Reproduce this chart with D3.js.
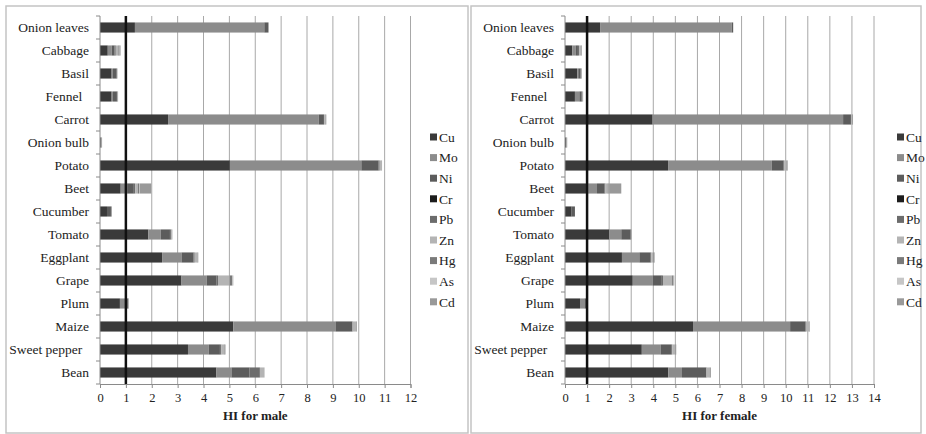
<!DOCTYPE html>
<html>
<head>
<meta charset="utf-8">
<script src="https://cdn.jsdelivr.net/npm/d3@7"></script>
<style>
  body { margin: 0; background: #fff; }
  svg text { font-family: "Liberation Serif", "Times New Roman", serif; fill: #222; }
</style>
</head>
<body>
<svg id="chart" width="926" height="434"></svg>
<script>
const crops = ['Onion leaves', 'Cabbage', 'Basil', 'Fennel ', 'Carrot', 'Onion bulb', 'Potato', 'Beet',
  'Cucumber', 'Tomato', 'Eggplant', 'Grape', 'Plum', 'Maize', 'Sweet pepper ', 'Bean'];
const metals = ['Cu', 'Mo', 'Ni', 'Cr', 'Pb', 'Zn', 'Hg', 'As', 'Cd'];

// HI for male, one array per metal, in crop order
const maleCu = [1.35, 0.30, 0.45, 0.45, 2.63, 0.03, 5.02, 0.80, 0.27, 1.87, 2.40, 3.15, 0.77, 5.15, 3.40, 4.50];
const maleMo = [5.00, 0.15, 0.05, 0.05, 5.82, 0.01, 5.08, 0.25, 0.00, 0.48, 0.75, 0.97, 0.20, 3.95, 0.80, 0.58];
const maleNi = [0.15, 0.10, 0.12, 0.15, 0.20, 0.02, 0.65, 0.25, 0.15, 0.35, 0.45, 0.38, 0.10, 0.65, 0.43, 0.69];
const maleCr = [0.01, 0.01, 0.01, 0.01, 0.01, 0.00, 0.01, 0.01, 0.01, 0.01, 0.01, 0.01, 0.01, 0.01, 0.01, 0.01];
const malePb = [0.00, 0.05, 0.03, 0.02, 0.00, 0.00, 0.05, 0.05, 0.02, 0.05, 0.05, 0.05, 0.02, 0.00, 0.05, 0.40];
const maleZn = [0.00, 0.10, 0.02, 0.02, 0.05, 0.01, 0.05, 0.10, 0.00, 0.04, 0.10, 0.45, 0.02, 0.15, 0.10, 0.18];
const maleHg = [0.00, 0.05, 0.00, 0.00, 0.02, 0.00, 0.02, 0.05, 0.00, 0.00, 0.02, 0.10, 0.00, 0.02, 0.03, 0.00];
const maleAs = [0.00, 0.02, 0.00, 0.00, 0.01, 0.00, 0.01, 0.02, 0.00, 0.00, 0.01, 0.02, 0.00, 0.00, 0.01, 0.00];
const maleCd = [0.00, 0.02, 0.00, 0.00, 0.01, 0.01, 0.01, 0.45, 0.00, 0.00, 0.01, 0.02, 0.00, 0.00, 0.02, 0.00];

// HI for female
const femaleCu = [1.59, 0.33, 0.55, 0.45, 3.97, 0.04, 4.67, 1.05, 0.30, 2.00, 2.58, 3.07, 0.68, 5.80, 3.48, 4.68];
const femaleMo = [5.96, 0.15, 0.05, 0.20, 8.63, 0.01, 4.70, 0.40, 0.00, 0.55, 0.79, 0.91, 0.20, 4.40, 0.85, 0.62];
const femaleNi = [0.07, 0.10, 0.10, 0.10, 0.35, 0.02, 0.51, 0.32, 0.15, 0.40, 0.48, 0.40, 0.10, 0.70, 0.47, 1.10];
const femaleCr = [0.00, 0.01, 0.01, 0.01, 0.01, 0.00, 0.01, 0.01, 0.00, 0.01, 0.01, 0.01, 0.01, 0.01, 0.01, 0.01];
const femalePb = [0.00, 0.05, 0.03, 0.02, 0.00, 0.00, 0.05, 0.05, 0.00, 0.04, 0.05, 0.05, 0.01, 0.00, 0.05, 0.00];
const femaleZn = [0.00, 0.08, 0.02, 0.02, 0.05, 0.01, 0.10, 0.10, 0.00, 0.00, 0.10, 0.40, 0.00, 0.15, 0.12, 0.15];
const femaleHg = [0.00, 0.03, 0.01, 0.02, 0.03, 0.00, 0.03, 0.05, 0.00, 0.00, 0.03, 0.05, 0.00, 0.02, 0.03, 0.04];
const femaleAs = [0.00, 0.01, 0.00, 0.00, 0.01, 0.00, 0.01, 0.02, 0.00, 0.00, 0.01, 0.02, 0.00, 0.01, 0.01, 0.00];
const femaleCd = [0.00, 0.01, 0.00, 0.00, 0.00, 0.02, 0.02, 0.55, 0.00, 0.00, 0.02, 0.04, 0.00, 0.01, 0.02, 0.00];

const maleTicks = d3.range(0, 13);
const femaleTicks = d3.range(0, 15);

const colors = {
  Cu: '#3a3a3a', Mo: '#8c8c8c', Ni: '#5c5c5c', Cr: '#1c1c1c', Pb: '#6c6c6c',
  Zn: '#b4b4b4', Hg: '#7a7a7a', As: '#c6c6c6', Cd: '#999999'
};

function buildRows(series) {
  return crops.map((c, i) => {
    const row = { crop: c };
    metals.forEach((m, j) => { row[m] = series[j][i]; });
    return row;
  });
}

const svg = d3.select('#chart');

function drawPanel(p) {
  // panel frame
  svg.append('rect')
    .attr('x', p.frame[0]).attr('y', 6)
    .attr('width', p.frame[1] - p.frame[0]).attr('height', 427)
    .attr('fill', 'none').attr('stroke', '#c4c4c4').attr('stroke-width', 1.5);

  const x = d3.scaleLinear().domain([0, p.max]).range([p.x0, p.x1]);
  const y = d3.scaleBand().domain(crops).range([16, 384])
    .paddingInner(0.56).paddingOuter(0.28);

  const g = svg.append('g');

  // vertical gridlines
  g.selectAll('.grid').data(p.ticks.slice(1)).enter().append('line')
    .attr('x1', d => x(d)).attr('x2', d => x(d))
    .attr('y1', 16).attr('y2', 384)
    .attr('stroke', '#a8a8a8').attr('stroke-width', 1);

  // stacked bars
  const stacked = d3.stack().keys(metals)(buildRows(p.series));
  g.selectAll('.layer').data(stacked).enter().append('g')
    .attr('fill', d => colors[d.key])
    .selectAll('rect').data(d => d).enter().append('rect')
    .attr('x', d => x(d[0]))
    .attr('width', d => Math.max(0, x(d[1]) - x(d[0])))
    .attr('y', d => y(d.data.crop))
    .attr('height', y.bandwidth());

  // y axis: line with separator ticks between categories
  g.append('line').attr('x1', p.x0).attr('x2', p.x0).attr('y1', 16).attr('y2', 384)
    .attr('stroke', '#8a8a8a');
  g.selectAll('.sep').data(d3.range(crops.length + 1)).enter().append('line')
    .attr('x1', p.x0 - 4).attr('x2', p.x0)
    .attr('y1', i => 16 + i * y.step()).attr('y2', i => 16 + i * y.step())
    .attr('stroke', '#8a8a8a');
  // trailing spaces in the source labels are kept as non-breaking spaces
  g.selectAll('.cat').data(crops).enter().append('text')
    .attr('x', p.x0 - 11).attr('y', d => y(d) + y.bandwidth() / 2)
    .attr('dy', '0.35em').attr('text-anchor', 'end')
    .style('font-size', '13.5px')
    .text(d => d.replace(/ $/, '\u00a0\u00a0'));

  // x axis
  const xAxis = g.append('g').attr('transform', 'translate(0,384)')
    .call(d3.axisBottom(x).tickValues(p.ticks).tickSize(4).tickFormat(d3.format('d')));
  xAxis.select('.domain').attr('stroke', '#8a8a8a');
  xAxis.selectAll('.tick line').attr('stroke', '#8a8a8a');
  xAxis.selectAll('.tick text').attr('y', 9)
    .style('font-family', '"Liberation Serif", serif').style('font-size', '12.5px').attr('fill', '#222');

  // reference line at HI = 1
  g.append('line').attr('x1', x(1)).attr('x2', x(1)).attr('y1', 16).attr('y2', 384)
    .attr('stroke', '#111').attr('stroke-width', 2.5);

  g.append('text')
    .attr('x', (p.x0 + p.x1) / 2).attr('y', 420)
    .attr('text-anchor', 'middle')
    .style('font-size', '13px').style('font-weight', 'bold')
    .text(p.title);

  // legend
  const lg = g.selectAll('.lg').data(metals).enter().append('g')
    .attr('transform', (d, i) => `translate(${p.legendX},${137 + i * 20.6})`);
  lg.append('rect').attr('x', 0).attr('y', -3.5).attr('width', 7).attr('height', 7)
    .attr('fill', d => colors[d]);
  lg.append('text').attr('x', 9).attr('dy', '0.35em')
    .style('font-size', '13.5px').text(d => d);
}

drawPanel({
  frame: [6, 468], x0: 100, x1: 410.5, max: 12, ticks: maleTicks,
  series: [maleCu, maleMo, maleNi, maleCr, malePb, maleZn, maleHg, maleAs, maleCd],
  title: 'HI for male', legendX: 430
});
drawPanel({
  frame: [471, 921], x0: 565, x1: 874, max: 14, ticks: femaleTicks,
  series: [femaleCu, femaleMo, femaleNi, femaleCr, femalePb, femaleZn, femaleHg, femaleAs, femaleCd],
  title: 'HI for female', legendX: 897
});
</script>
</body>
</html>
